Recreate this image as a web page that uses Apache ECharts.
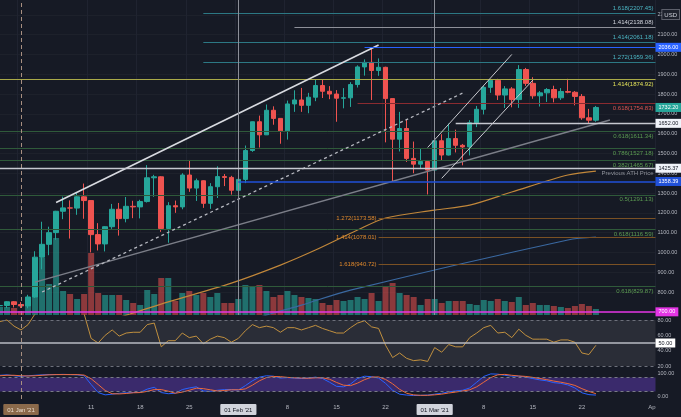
<!DOCTYPE html>
<html>
<head>
    <meta charset="utf-8">
    <title>ETH/USD</title>
    <script src="https://cdn.jsdelivr.net/npm/echarts@6/dist/echarts.min.js"></script>
    <style>
        html, body { margin: 0; padding: 0; background: #161a25; }
        #chart { width: 681px; height: 417px; }
    </style>
</head>
<body>
    <div id="chart"></div>

    <script type="text/javascript">
        // daily candles, 29 Dec 2020 -> 24 Mar 2021, axis runs on to 1 Apr
        var days = ['Dec 29', 'Dec 30', 'Dec 31',
            'Jan 1', 'Jan 2', 'Jan 3', 'Jan 4', 'Jan 5', 'Jan 6', 'Jan 7', 'Jan 8', 'Jan 9', 'Jan 10',
            'Jan 11', 'Jan 12', 'Jan 13', 'Jan 14', 'Jan 15', 'Jan 16', 'Jan 17', 'Jan 18', 'Jan 19', 'Jan 20',
            'Jan 21', 'Jan 22', 'Jan 23', 'Jan 24', 'Jan 25', 'Jan 26', 'Jan 27', 'Jan 28', 'Jan 29', 'Jan 30', 'Jan 31',
            'Feb 1', 'Feb 2', 'Feb 3', 'Feb 4', 'Feb 5', 'Feb 6', 'Feb 7', 'Feb 8', 'Feb 9', 'Feb 10',
            'Feb 11', 'Feb 12', 'Feb 13', 'Feb 14', 'Feb 15', 'Feb 16', 'Feb 17', 'Feb 18', 'Feb 19', 'Feb 20',
            'Feb 21', 'Feb 22', 'Feb 23', 'Feb 24', 'Feb 25', 'Feb 26', 'Feb 27', 'Feb 28',
            'Mar 1', 'Mar 2', 'Mar 3', 'Mar 4', 'Mar 5', 'Mar 6', 'Mar 7', 'Mar 8', 'Mar 9', 'Mar 10',
            'Mar 11', 'Mar 12', 'Mar 13', 'Mar 14', 'Mar 15', 'Mar 16', 'Mar 17', 'Mar 18', 'Mar 19', 'Mar 20',
            'Mar 21', 'Mar 22', 'Mar 23', 'Mar 24', 'Mar 25', 'Mar 26', 'Mar 27', 'Mar 28', 'Mar 29', 'Mar 30', 'Mar 31',
            'Apr 1'];

        var open = [731, 732, 751, 737, 730, 775, 976, 1041, 1100, 1208,
            1225, 1224, 1281, 1262, 1090, 1043, 1130, 1218, 1171, 1233,
            1230, 1257, 1377, 1382, 1121, 1236, 1230, 1391, 1325, 1362,
            1248, 1332, 1383, 1379, 1314, 1369, 1515, 1660, 1594, 1718,
            1677, 1614, 1750, 1770, 1743, 1784, 1843, 1814, 1800, 1779,
            1781, 1848, 1937, 1960, 1919, 1935, 1777, 1572, 1626, 1475,
            1446, 1459, 1416, 1564, 1492, 1575, 1541, 1533, 1655, 1723,
            1834, 1869, 1795, 1826, 1772, 1924, 1854, 1791, 1806, 1823,
            1781, 1813, 1809, 1788, 1680, 1668];
        var high = [749, 754, 754, 749, 786, 1006, 1155, 1130, 1210, 1282,
            1263, 1300, 1348, 1263, 1148, 1133, 1245, 1250, 1280, 1261,
            1266, 1441, 1392, 1385, 1254, 1262, 1400, 1467, 1373, 1364,
            1350, 1435, 1396, 1387, 1375, 1540, 1661, 1691, 1747, 1738,
            1678, 1767, 1819, 1831, 1806, 1871, 1872, 1840, 1820, 1830,
            1860, 1945, 1975, 2036, 1980, 1938, 1777, 1710, 1674, 1560,
            1525, 1467, 1570, 1597, 1651, 1620, 1548, 1668, 1740, 1842,
            1874, 1877, 1840, 1835, 1946, 1932, 1885, 1815, 1830, 1842,
            1830, 1877, 1815, 1800, 1725, 1740];
        var low = [716, 720, 722, 719, 718, 771, 915, 986, 1064, 1168,
            1070, 1190, 1170, 1000, 1010, 1005, 1119, 1085, 1152, 1173,
            1172, 1252, 1281, 1104, 1049, 1200, 1218, 1306, 1260, 1225,
            1220, 1275, 1335, 1292, 1292, 1350, 1508, 1530, 1593, 1645,
            1549, 1570, 1710, 1710, 1703, 1764, 1780, 1774, 1660, 1728,
            1735, 1833, 1893, 1770, 1892, 1556, 1360, 1510, 1457, 1400,
            1421, 1293, 1410, 1462, 1490, 1505, 1440, 1490, 1633, 1697,
            1806, 1770, 1730, 1733, 1730, 1841, 1776, 1737, 1760, 1758,
            1770, 1804, 1743, 1670, 1650, 1660];
        var close = [732, 751, 737, 730, 775, 976, 1041, 1100, 1208, 1225,
            1224, 1281, 1262, 1090, 1043, 1130, 1218, 1171, 1233, 1230,
            1257, 1377, 1382, 1121, 1236, 1230, 1391, 1325, 1362, 1248,
            1332, 1383, 1379, 1314, 1369, 1515, 1660, 1594, 1718, 1677,
            1614, 1750, 1770, 1743, 1784, 1843, 1814, 1800, 1779, 1781,
            1848, 1937, 1960, 1919, 1935, 1777, 1572, 1626, 1475, 1446,
            1459, 1416, 1564, 1492, 1575, 1541, 1533, 1655, 1723, 1834,
            1869, 1795, 1826, 1772, 1924, 1854, 1791, 1806, 1823, 1781,
            1813, 1809, 1788, 1680, 1668, 1732.2];
        // volume in relative units
        var volume = [8, 8, 7, 4, 17, 57, 57, 31, 77, 24,
            21, 16, 21, 62, 22, 20, 20, 20, 15, 12,
            10, 25, 21, 37, 37, 14, 22, 24, 20, 22,
            18, 22, 12, 12, 16, 30, 28, 30, 24, 18,
            20, 24, 20, 18, 17, 16, 12, 10, 15, 14,
            15, 18, 16, 22, 14, 28, 32, 22, 20, 18,
            10, 16, 16, 12, 14, 14, 14, 11, 10, 15,
            14, 16, 14, 13, 18, 10, 12, 10, 10, 9,
            8, 7, 9, 11, 9, 6];
        var rsi = [78, 80, 72, 67, 74, 88, 90, 91, 93, 93,
            92, 93, 88, 56, 50, 60, 67, 59, 63, 64,
            64, 74, 76, 45, 53, 53, 63, 57, 59, 49,
            55, 59, 57, 51, 56, 66, 74, 70, 72, 70,
            64, 70, 70, 67, 70, 73, 69, 66, 63, 63,
            70, 76, 79, 71, 69, 47, 31, 37, 30, 27,
            28, 26, 44, 38, 48, 45, 45, 57, 63, 70,
            73, 63, 64, 57, 68, 60, 55, 55, 55, 51,
            54, 54, 51, 37, 35, 47];
        var stochK = [90, 92, 88, 85, 88, 90, 92, 93, 93, 94,
            93, 92, 88, 50, 15, 5, 8, 12, 14, 15,
            16, 30, 38, 15, 10, 12, 28, 35, 40, 22,
            20, 25, 28, 28, 26, 45, 66, 82, 88, 86,
            78, 80, 78, 76, 78, 82, 76, 60, 42, 40,
            52, 76, 86, 84, 78, 55, 25, 8, 4, 2,
            3, 4, 8, 12, 18, 22, 25, 35, 60, 85,
            96, 95, 90, 86, 86, 82, 76, 70, 66, 58,
            55, 48, 35, 14, 6, 4];
        var stochD = [88, 90, 90, 88, 87, 88, 90, 92, 93, 93,
            93, 93, 91, 75, 50, 24, 10, 9, 11, 14,
            15, 20, 28, 28, 21, 12, 17, 25, 34, 32,
            27, 22, 24, 27, 27, 31, 47, 66, 80, 85,
            84, 81, 79, 78, 77, 79, 79, 73, 59, 47,
            45, 56, 71, 82, 83, 72, 53, 29, 12, 5,
            3, 3, 5, 8, 13, 17, 22, 27, 40, 60,
            80, 92, 94, 90, 87, 85, 81, 76, 71, 65,
            60, 54, 46, 32, 20, 10];

        // moving averages, read at a few days: [day index, price]
        var maOrange = [[14, 640], [19, 694], [24, 750], [33, 845], [40, 936], [45, 1012], [51, 1113],
            [55, 1174], [62, 1214], [67, 1239], [73, 1305], [81, 1391], [85, 1411]];
        var maBlue = [[35, 650], [39, 694], [43, 734], [50, 810], [81, 1063], [85, 1078]];

        // trend lines: [day0, price0, day1, price1]
        var upperChannel = [8, 1252, 54, 2048];
        var lowerChannel = [6, 800, 66, 1805];
        var longTrend = [5, 850, 87, 1669];
        var marchUpper = [61, 1530, 73, 2000];
        var marchLower = [63, 1374, 76, 1870];

        // fibonacci levels: [ratio, price]
        var tealFibs = [['1.618', 2207.45], ['1.414', 2061.18], ['1.272', 1959.36]];
        var tealFrom = 'Jan 27';
        var greyFibs = [['1.414', 2138.08]];
        var greyFrom = 'Feb 9';
        var yellowFibs = [['1.414', 1874.92]];
        var redFibs = [['0.618', 1754.83]];
        var redFrom = 'Feb 18';
        var greenFibs = [['0.618', 1611.34], ['0.786', 1527.18], ['0.382', 1465.67],
            ['0.5', 1291.13], ['0.618', 1116.59], ['0.618', 829.87]];
        var orangeFibs = [['1.272', 1173.58], ['1.414', 1078.01], ['1.618', 940.72]];
        var orangeFrom = 'Feb 21';

        var athLevel = 2036.00, athFrom = 'Feb 19';
        var supportLevel = 1652.00, supportFrom = 'Mar 4';
        var prevAthLevel = 1425.37;
        var blueLevel = 1358.39, blueFrom = 'Feb 1';
        var floorLevel = 700.00;

        var monthLines = ['Feb 1', 'Mar 1'];
        var focusDay = 'Jan 1';

        var priceTicks = [700, 800, 900, 1000, 1100, 1200, 1300, 1400, 1500, 1600, 1700, 1800, 1900, 2000, 2100, 2200];
        var rsiTicks = [20, 40, 60, 80];
        var stochTicks = [0, 100];
        var dateTicks = {
            'Jan 1': "01 Jan '21", 'Jan 11': '11', 'Jan 18': '18', 'Jan 25': '25',
            'Feb 1': "01 Feb '21", 'Feb 8': '8', 'Feb 15': '15', 'Feb 22': '22',
            'Mar 1': "01 Mar '21", 'Mar 8': '8', 'Mar 15': '15', 'Mar 22': '22', 'Apr 1': 'Ap'
        };

        var F = '"Liberation Sans", Arial, sans-serif';
        var AXIS_TXT = '#b2b5be';
        var xEnd = days.length - 0.5;
        function idx(d) { return days.indexOf(d); }
        function fix2(v) { return Number(v).toFixed(2); }

        var candles = open.map(function (o, i) { return [o, close[i], low[i], high[i]]; });
        var vols = volume.map(function (v, i) {
            return { value: v, itemStyle: { color: close[i] >= open[i] ? 'rgba(38,166,154,0.62)' : 'rgba(239,83,80,0.55)' } };
        });

        function txt(text, color, pos) {
            return { show: true, position: pos, formatter: text, color: color, fontSize: 6, fontFamily: F, distance: 2 };
        }
        function box(text, bg, fg) {
            return { show: true, position: 'end', formatter: text, color: fg, backgroundColor: bg,
                padding: [2, 3, 1, 3], fontSize: 5.5, fontFamily: F, distance: 0 };
        }
        function hLine(value, from, color, width, label) {
            return [{ coord: [from == null ? -0.5 : idx(from), value],
                      lineStyle: { color: color, width: width, type: 'solid' },
                      label: label || { show: false } },
                    { coord: [xEnd, value] }];
        }
        function seg(t, color, width, type) {
            return [{ coord: [t[0], t[1]], lineStyle: { color: color, width: width, type: type || 'solid' } },
                    { coord: [t[2], t[3]] }];
        }
        function fibText(f) { return f[0] + '(' + fix2(f[1]) + ')'; }

        var drawings = [];
        greenFibs.forEach(function (f) {
            drawings.push(hLine(f[1], null, '#2f5a3a', 1, txt(fibText(f), '#5c9c52', 'insideEndBottom')));
        });
        orangeFibs.forEach(function (f) {
            drawings.push(hLine(f[1], orangeFrom, '#7a5124', 1.2, txt(fibText(f), '#e0892c', 'start')));
        });
        tealFibs.forEach(function (f) {
            drawings.push(hLine(f[1], tealFrom, '#2c7884', 1, txt(fibText(f), '#4cb6c4', 'insideEndTop')));
        });
        greyFibs.forEach(function (f) {
            drawings.push(hLine(f[1], greyFrom, '#8e9099', 1, txt(fibText(f), '#d1d4dc', 'insideEndTop')));
        });
        yellowFibs.forEach(function (f) {
            drawings.push(hLine(f[1], null, '#a9a948', 1.2, txt(fibText(f), '#e3e35a', 'insideEndBottom')));
        });
        redFibs.forEach(function (f) {
            drawings.push(hLine(f[1], redFrom, '#8a2b30', 1.2, txt(fibText(f), '#d9534f', 'insideEndBottom')));
        });

        drawings.push(seg(longTrend, '#7b7e88', 1.5));
        drawings.push(seg(lowerChannel, '#b8bac2', 1.3, [3, 3]));
        drawings.push(seg(upperChannel, '#d8dae0', 1.6));
        drawings.push(seg(marchUpper, '#c8cad0', 1));
        drawings.push(seg(marchLower, '#c8cad0', 1));

        monthLines.forEach(function (d) {
            drawings.push({ xAxis: idx(d), lineStyle: { color: '#8c8f98', width: 1, type: 'solid' }, label: { show: false } });
        });
        drawings.push({ xAxis: idx(focusDay), lineStyle: { color: '#a88f80', width: 1, type: [4, 3] }, label: { show: false } });

        drawings.push(hLine(floorLevel, null, '#e535e5', 1.6, box(fix2(floorLevel), '#e535e5', '#ffffff')));
        drawings.push(hLine(blueLevel, blueFrom, '#2151d8', 1.5, box(fix2(blueLevel), '#2151d8', '#ffffff')));
        drawings.push(hLine(prevAthLevel, null, '#c5c8d0', 1.3, box(fix2(prevAthLevel), '#f0f3fa', '#131722')));
        drawings.push(hLine(prevAthLevel, null, 'rgba(0,0,0,0)', 1, txt('Previous ATH Price', '#8f929b', 'insideEndBottom')));
        drawings.push(hLine(supportLevel, supportFrom, '#c5c8d0', 1.3, box(fix2(supportLevel), '#f0f3fa', '#131722')));
        drawings.push(hLine(athLevel, athFrom, '#2962ff', 1, box(fix2(athLevel), '#2962ff', '#ffffff')));
        var last = close[close.length - 1];
        drawings.push(hLine(last, null, 'rgba(0,0,0,0)', 1, box(fix2(last), '#26a69a', '#ffffff')));

        function isTick(i, v) { return dateTicks[v] !== undefined; }
        function isGrid(i, v) { return dateTicks[v] !== undefined && v !== 'Apr 1'; }

        var focusLine = { xAxis: focusDay, lineStyle: { color: '#a88f80', width: 1, type: [4, 3] }, label: { show: false } };
        function dashed(v, color) {
            return { yAxis: v, lineStyle: { color: color, width: 1, type: [3, 3] }, label: { show: false } };
        }

        var myChart = echarts.init(document.getElementById('chart'));
        myChart.setOption({
            backgroundColor: '#161a25',
            animation: false,
            textStyle: { fontFamily: F },
            grid: [
                { left: -3.5, right: 25.5, top: 0, height: 315, outerBoundsMode: 'none' },
                { left: -3.5, right: 25.5, top: 315, height: 55, outerBoundsMode: 'none' },
                { left: -3.5, right: 25.5, top: 370, height: 29, outerBoundsMode: 'none' }
            ],
            xAxis: [
                { type: 'category', gridIndex: 0, data: days, boundaryGap: true,
                  axisLine: { show: false }, axisTick: { show: false }, axisLabel: { show: false },
                  splitLine: { show: true, interval: isGrid, lineStyle: { color: '#1f2330' } } },
                { type: 'value', gridIndex: 0, min: -0.5, max: xEnd, show: false },
                { type: 'category', gridIndex: 1, data: days, boundaryGap: true, show: false },
                { type: 'category', gridIndex: 2, data: days, boundaryGap: true,
                  axisLine: { show: false }, axisTick: { show: false },
                  axisLabel: {
                      interval: isTick, margin: 5, fontSize: 6, color: AXIS_TXT,
                      formatter: function (v) {
                          var t = dateTicks[v];
                          if (v === focusDay) return '{focus|' + t + '}';
                          if (monthLines.indexOf(v) >= 0) return '{hl|' + t + '}';
                          return t;
                      },
                      rich: {
                          hl: { backgroundColor: '#d1d4dc', color: '#131722', padding: [3, 4, 2, 4], fontSize: 6, borderRadius: 1 },
                          focus: { backgroundColor: '#8b6a4b', color: '#eadccc', padding: [3, 4, 2, 4], fontSize: 6, borderRadius: 1 }
                      }
                  },
                  splitLine: { show: false } }
            ],
            yAxis: [
                { type: 'value', gridIndex: 0, position: 'right', min: 684, max: 2275,
                  axisLine: { show: false }, axisTick: { show: false, customValues: priceTicks },
                  axisLabel: { customValues: priceTicks, formatter: fix2, color: AXIS_TXT, fontSize: 5.5, margin: 2 },
                  splitLine: { show: true, lineStyle: { color: '#1d212b' } } },
                { type: 'value', gridIndex: 0, min: 0, max: 315, show: false },
                { type: 'value', gridIndex: 1, position: 'right', min: 14.8, max: 86.5,
                  axisLine: { show: false }, axisTick: { show: false, customValues: rsiTicks },
                  axisLabel: { customValues: rsiTicks, formatter: fix2, color: AXIS_TXT, fontSize: 5.5, margin: 2 },
                  splitLine: { show: false } },
                { type: 'value', gridIndex: 2, position: 'right', min: -13, max: 113,
                  axisLine: { show: false }, axisTick: { show: false, customValues: stochTicks },
                  axisLabel: { customValues: stochTicks, formatter: fix2, color: AXIS_TXT, fontSize: 5.5, margin: 2 },
                  splitLine: { show: false } }
            ],
            graphic: [
                { type: 'text', right: 1, top: 9, z: 100,
                  style: { text: 'USD', fontSize: 6, fontFamily: F, fill: '#d1d4dc',
                           backgroundColor: '#1e222d', borderColor: '#5d606b', borderWidth: 1, padding: [2, 2, 1, 2] } }
            ],
            series: [
                { name: 'Volume', type: 'bar', xAxisIndex: 0, yAxisIndex: 1, data: vols,
                  barWidth: 6, silent: true, z: 1 },
                { name: 'ETH', type: 'candlestick', xAxisIndex: 0, yAxisIndex: 0, data: candles,
                  barWidth: 5, silent: true, z: 2,
                  itemStyle: { color: '#26a69a', color0: '#ef5350', borderColor: '#26a69a', borderColor0: '#ef5350', borderWidth: 1 } },
                { name: 'MA slow', type: 'line', xAxisIndex: 1, yAxisIndex: 0, data: maBlue, smooth: 0.3,
                  symbol: 'none', silent: true, z: 3, lineStyle: { color: '#3a68a0', width: 1.2 } },
                { name: 'MA', type: 'line', xAxisIndex: 1, yAxisIndex: 0, data: maOrange, smooth: 0.3,
                  symbol: 'none', silent: true, z: 3, lineStyle: { color: '#c1873a', width: 1.2 },
                  markLine: { symbol: ['none', 'none'], silent: true, animation: false, label: { show: false },
                              data: drawings } },
                { name: 'RSI band', type: 'line', xAxisIndex: 2, yAxisIndex: 2, data: [], silent: true, z: 0,
                  markArea: { silent: true, itemStyle: { color: '#2a2d37' }, data: [[{ yAxis: 20 }, { yAxis: 80 }]] } },
                { name: 'RSI', type: 'line', xAxisIndex: 2, yAxisIndex: 2, data: rsi, symbol: 'none', silent: true, z: 3,
                  lineStyle: { color: '#c1903f', width: 1 },
                  markLine: { symbol: ['none', 'none'], silent: true, animation: false, label: { show: false },
                              data: [dashed(80, '#6d707b'), dashed(20, '#6d707b'),
                                     { yAxis: 50, lineStyle: { color: '#b8bbc3', width: 1.6, type: 'solid' },
                                       label: box('50.00', '#ffffff', '#131722') },
                                     focusLine] } },
                { name: 'Stoch band', type: 'line', xAxisIndex: 3, yAxisIndex: 3, data: [], silent: true, z: 0,
                  markArea: { silent: true, itemStyle: { color: '#3a2a6c' }, data: [[{ yAxis: 20 }, { yAxis: 80 }]] } },
                { name: '%K', type: 'line', xAxisIndex: 3, yAxisIndex: 3, data: stochK, symbol: 'none', silent: true, z: 3,
                  lineStyle: { color: '#2962ff', width: 1 },
                  markLine: { symbol: ['none', 'none'], silent: true, animation: false, label: { show: false },
                              data: [dashed(80, '#787b86'), dashed(20, '#787b86'), focusLine] } },
                { name: '%D', type: 'line', xAxisIndex: 3, yAxisIndex: 3, data: stochD, symbol: 'none', silent: true, z: 3,
                  lineStyle: { color: '#ec6a3c', width: 1 } }
            ]
        });
    </script>

</body>
</html>
